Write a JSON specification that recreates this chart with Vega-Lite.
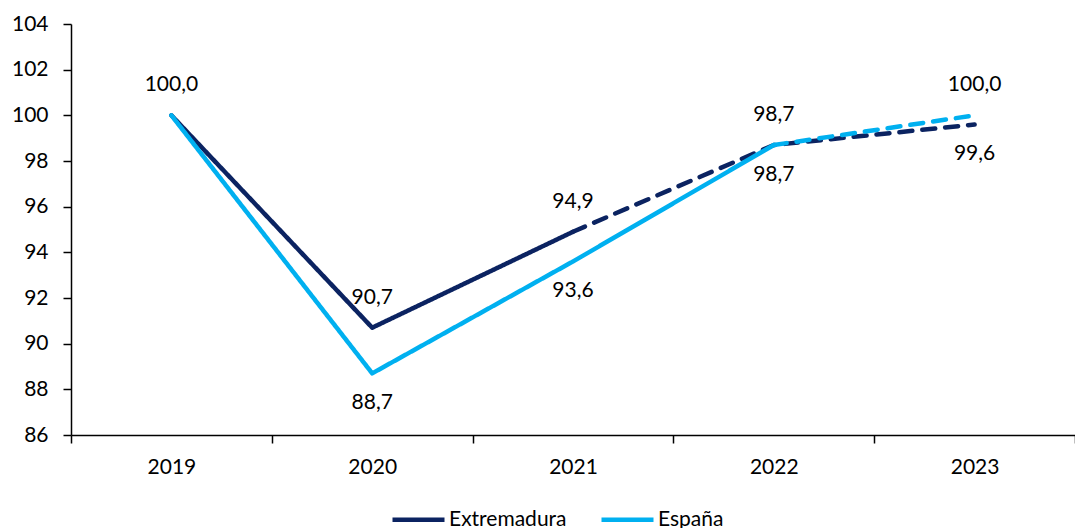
{
  "$schema": "https://vega.github.io/schema/vega-lite/v6.json",
  "width": 1004,
  "height": 411,
  "autosize": {"type": "none"},
  "padding": {"left": 71, "top": 24, "right": 0, "bottom": 93},
  "background": "white",
  "config": {
    "view": {"stroke": null},
    "font": "Lato",
    "locale": {"number": {"decimal": ",", "thousands": ".", "grouping": [3], "currency": ["", " €"]}}
  },
  "datasets": {
    "lines": [
      {"year": "2019", "region": "Extremadura", "seg": "solid", "value": 100.0},
      {"year": "2020", "region": "Extremadura", "seg": "solid", "value": 90.7},
      {"year": "2021", "region": "Extremadura", "seg": "solid", "value": 94.9},
      {"year": "2021", "region": "Extremadura", "seg": "dash", "value": 94.9},
      {"year": "2022", "region": "Extremadura", "seg": "dash", "value": 98.7},
      {"year": "2023", "region": "Extremadura", "seg": "dash", "value": 99.6},
      {"year": "2019", "region": "España", "seg": "solid", "value": 100.0},
      {"year": "2020", "region": "España", "seg": "solid", "value": 88.7},
      {"year": "2021", "region": "España", "seg": "solid", "value": 93.6},
      {"year": "2022", "region": "España", "seg": "solid", "value": 98.7},
      {"year": "2022", "region": "España", "seg": "dash", "value": 98.7},
      {"year": "2023", "region": "España", "seg": "dash", "value": 100.0}
    ],
    "points": [
      {"year": "2019", "region": "Extremadura", "value": 100.0},
      {"year": "2020", "region": "Extremadura", "value": 90.7},
      {"year": "2021", "region": "Extremadura", "value": 94.9},
      {"year": "2022", "region": "Extremadura", "value": 98.7},
      {"year": "2023", "region": "Extremadura", "value": 99.6},
      {"year": "2020", "region": "España", "value": 88.7},
      {"year": "2021", "region": "España", "value": 93.6},
      {"year": "2022", "region": "España", "value": 98.7},
      {"year": "2023", "region": "España", "value": 100.0}
    ]
  },
  "encoding": {
    "x": {
      "field": "year", "type": "ordinal",
      "scale": {"type": "band", "paddingInner": 0, "paddingOuter": 0, "domain": ["2019", "2020", "2021", "2022", "2023"]},
      "axis": {
        "title": null, "labelAngle": 0, "tickBand": "extent",
        "domainColor": "black", "domainWidth": 1.5, "tickColor": "black", "tickWidth": 1.5, "tickSize": 8,
        "labelFontSize": 21, "labelColor": "black", "labelPadding": 13, "labelFont": "Lato"
      }
    },
    "y": {
      "field": "value", "type": "quantitative",
      "scale": {"domain": [86, 104], "nice": false, "zero": false},
      "axis": {
        "title": null, "values": [86, 88, 90, 92, 94, 96, 98, 100, 102, 104], "grid": false,
        "domainColor": "black", "domainWidth": 1.5, "tickColor": "black", "tickWidth": 1.5, "tickSize": 8,
        "labelFontSize": 21, "labelColor": "black", "labelPadding": 15, "labelFont": "Lato"
      }
    }
  },
  "layer": [
    {
      "data": {"name": "lines"},
      "mark": {"type": "line", "strokeWidth": 4.5, "strokeCap": "round", "strokeJoin": "round"},
      "encoding": {
        "color": {
          "field": "region", "type": "nominal",
          "scale": {"domain": ["Extremadura", "España"], "range": ["#0B2361", "#00B0F0"]},
          "legend": {
            "title": null, "orient": "none", "direction": "horizontal",
            "legendX": 319, "legendY": 467,
            "symbolType": "stroke", "symbolSize": 2704, "symbolStrokeWidth": 4.5,
            "labelFontSize": 21, "labelColor": "black", "labelFont": "Lato",
            "labelOffset": 2, "columnPadding": 25
          }
        },
        "strokeDash": {
          "field": "seg", "type": "nominal",
          "scale": {"domain": ["solid", "dash"], "range": [[1, 0], [13, 10]]},
          "legend": null
        },
        "detail": {"field": "seg"},
        "order": {"field": "year"}
      }
    },
    {
      "data": {"name": "points"},
      "transform": [{"filter": "(datum.region == 'Extremadura' && datum.year <= '2021') || (datum.region == 'España' && datum.year >= '2022')"}],
      "mark": {"type": "text", "fontSize": 21, "color": "black", "dy": -30, "baseline": "middle", "font": "Lato"},
      "encoding": {"text": {"field": "value", "type": "quantitative", "format": ".1f"}}
    },
    {
      "data": {"name": "points"},
      "transform": [{"filter": "!((datum.region == 'Extremadura' && datum.year <= '2021') || (datum.region == 'España' && datum.year >= '2022'))"}],
      "mark": {"type": "text", "fontSize": 21, "color": "black", "dy": 30, "baseline": "middle", "font": "Lato"},
      "encoding": {"text": {"field": "value", "type": "quantitative", "format": ".1f"}}
    }
  ]
}
